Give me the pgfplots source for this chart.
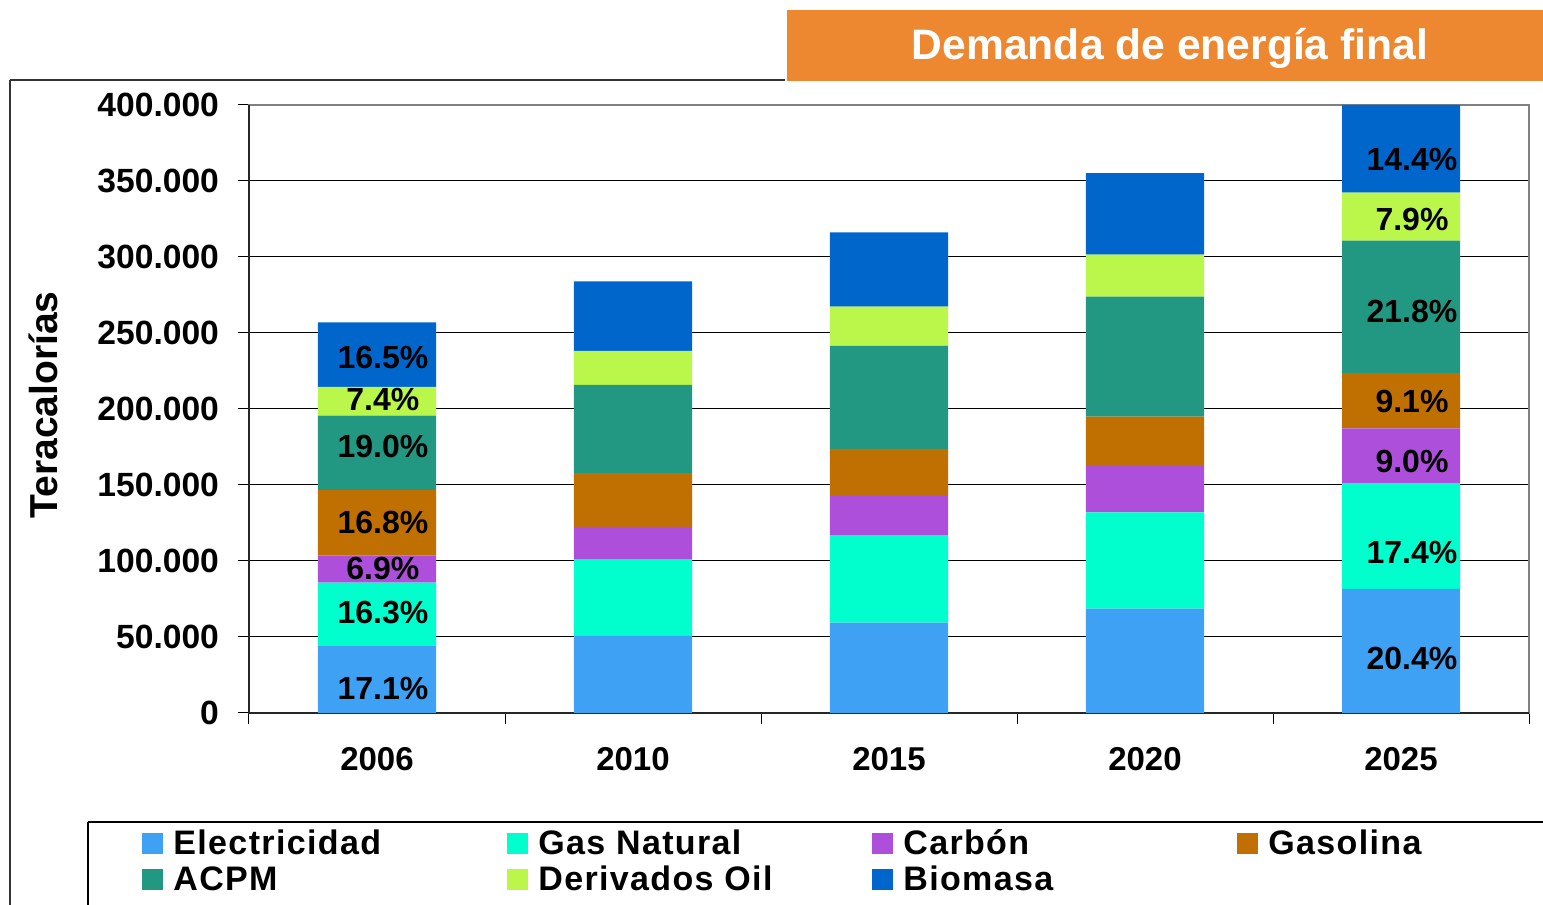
\documentclass[border=0pt]{standalone}
\usepackage{fontspec}
\setmainfont{Liberation Sans}
\usepackage{pgfplots}
\pgfplotsset{compat=1.18}
\usepackage{pgfplotstable}

\definecolor{cElec}{RGB}{63,161,244}
\definecolor{cGas}{RGB}{0,255,204}
\definecolor{cCarbon}{RGB}{174,79,219}
\definecolor{cGasolina}{RGB}{192,112,0}
\definecolor{cACPM}{RGB}{34,152,130}
\definecolor{cDeriv}{RGB}{187,247,74}
\definecolor{cBio}{RGB}{0,102,204}
\definecolor{cOrange}{RGB}{237,135,48}

\pgfplotstableread{
x Elec Gas Carbon Gasolina ACPM Deriv Bio
0 43947 41891 17733 43176 48830 19018 42405
1 50700 50200 21500 35350 58050 22400 45700
2 59400 57300 26200 30900 67700 25900 48800
3 68600 63400 30500 32500 79000 27600 53500
4 81600 69600 36000 36400 87200 31600 57600
}\demand

\pgfplotstableread{
x y label
0.023 16450 17.1\%
0.023 65790 16.3\%
0.023 95400 6.9\%
0.023 125660 16.8\%
0.023 175660 19.0\%
0.023 205930 7.4\%
0.023 234210 16.5\%
4.043 36180 20.4\%
4.043 105920 17.4\%
4.043 165790 9.0\%
4.043 205260 9.1\%
4.043 264470 21.8\%
4.043 325000 7.9\%
4.043 364470 14.4\%
}\labels

\newfontfamily\legfont[LetterSpace=4]{Liberation Sans}

\begin{document}
\begin{tikzpicture}[x=0.5pt,y=0.5pt]
\useasboundingbox (0,0) rectangle (1543,905);
\draw[line width=1pt, black!80] (10,825) -- (785,825);
\draw[line width=1pt, black!80] (10,825) -- (10,0);
\draw[line width=0.7pt, black] (88,83) -- (1543,83);
\draw[line width=0.7pt, black] (88,83) -- (88,0);
\fill[cOrange] (787,895) rectangle (1543,824);
\node[text=white, font=\fontsize{21.3}{25}\selectfont\bfseries] at (1170,857) {Demanda de energía final};
\node[rotate=90, font=\fontsize{19.5}{23}\selectfont\bfseries] at (43,500) {Teracalorías};

\begin{axis}[
  at={(124.5pt,96pt)}, anchor=south west,
  scale only axis, width=640pt, height=304pt,
  ybar stacked, bar width=0.461,
  xmin=-0.5, xmax=4.5, ymin=0, ymax=400000,
  xtick={-0.5,0.5,...,4.5}, xticklabels={},
  extra x ticks={0,1,2,3,4},
  extra x tick labels={2006,2010,2015,2020,2025},
  extra x tick style={major tick length=0pt},
  xtick pos=bottom, ytick pos=left,
  ytick={0,50000,...,400000},
  scaled y ticks=false,
  tick align=outside,
  major tick length=5.5pt,
  tick style={black, line width=0.5pt},
  ymajorgrids,
  grid style={black, line width=0.5pt},
  axis line style={gray, line width=1pt},
  x tick label style={font=\fontsize{16.5}{19}\selectfont\bfseries, yshift=-13.5pt},
  y tick label style={font=\fontsize{16.8}{19}\selectfont\bfseries, xshift=-6pt, /pgf/number format/1000 sep={.}, /pgf/number format/fixed},
  /pgf/number format/assume math mode=true,
  clip=false,
  legend columns=4,
  legend style={at={(-0.0836,-0.185)}, anchor=north west, draw=none, fill=none,
     font=\legfont\fontsize{17}{20}\selectfont\bfseries, inner sep=0pt,
     /tikz/every odd column/.append style={column sep=0pt}},
  legend image code/.code={\fill[#1] (0pt,-5.25pt) rectangle (10.5pt,5.25pt);},
]
\addplot[fill=cElec, draw=none] table[x=x,y=Elec]{\demand};
\addlegendentry{\makebox[168pt][l]{\hspace{3pt}Electricidad}}
\addplot[fill=cGas, draw=none] table[x=x,y=Gas]{\demand};
\addlegendentry{\makebox[168pt][l]{\hspace{3pt}Gas Natural}}
\addplot[fill=cCarbon, draw=none] table[x=x,y=Carbon]{\demand};
\addlegendentry{\makebox[168pt][l]{\hspace{3pt}Carbón}}
\addplot[fill=cGasolina, draw=none] table[x=x,y=Gasolina]{\demand};
\addlegendentry{\makebox[168pt][l]{\hspace{3pt}Gasolina}}
\addplot[fill=cACPM, draw=none] table[x=x,y=ACPM]{\demand};
\addlegendentry{\makebox[168pt][l]{\hspace{3pt}ACPM}}
\addplot[fill=cDeriv, draw=none] table[x=x,y=Deriv]{\demand};
\addlegendentry{\makebox[168pt][l]{\hspace{3pt}Derivados Oil}}
\addplot[fill=cBio, draw=none] table[x=x,y=Bio]{\demand};
\addlegendentry{\makebox[168pt][l]{\hspace{3pt}Biomasa}}
\draw[black!85, line width=1.2pt] (rel axis cs:0,1) -- (rel axis cs:0,0) -- (rel axis cs:1,0);
\end{axis}

\begin{axis}[
  at={(124.5pt,96pt)}, anchor=south west,
  scale only axis, width=640pt, height=304pt,
  xmin=-0.5, xmax=4.5, ymin=0, ymax=400000,
  hide axis, clip=false,
]
\addplot[draw=none, mark=none, nodes near coords, point meta=explicit symbolic,
  every node near coord/.append style={anchor=center, font=\fontsize{16}{19}\selectfont\bfseries, text=black}]
  table[x=x,y=y,meta=label]{\labels};
\end{axis}
\end{tikzpicture}
\end{document}
